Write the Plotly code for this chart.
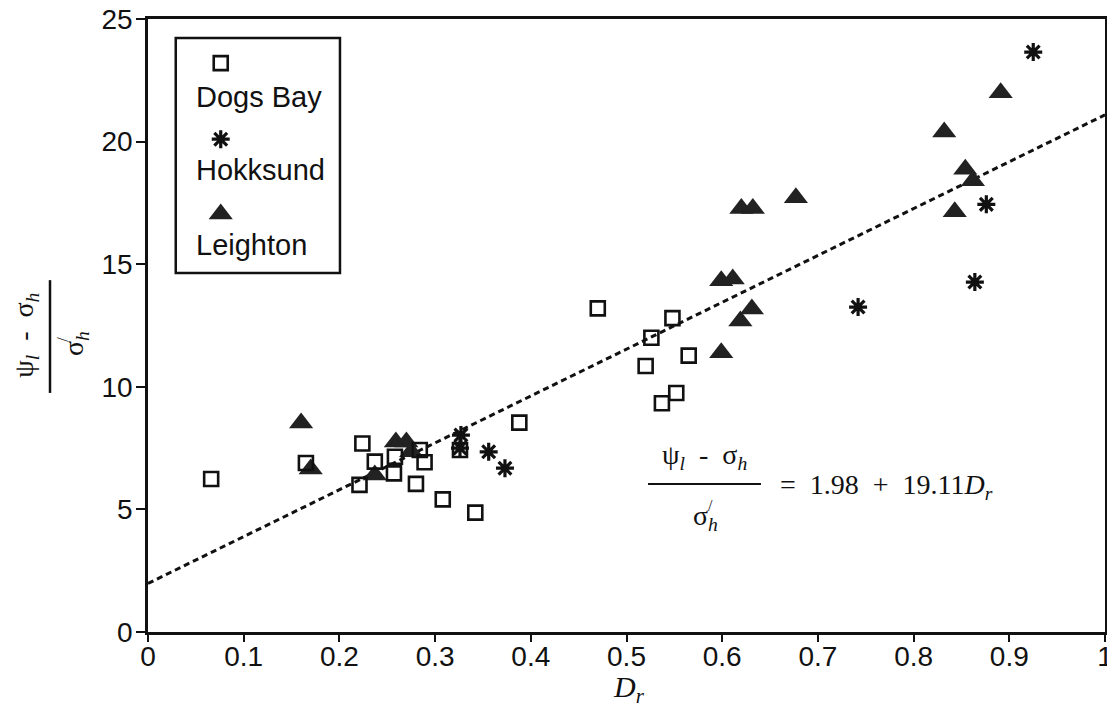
import plotly.graph_objects as go

# Relative density D_r and normalised lateral pressure for each sand
dogs_bay_dr = [0.066, 0.165, 0.224, 0.221, 0.237, 0.258, 0.257, 0.284, 0.289,
               0.280, 0.308, 0.342, 0.326, 0.388, 0.470, 0.548, 0.526, 0.520,
               0.565, 0.552, 0.537]
dogs_bay_y = [6.24, 6.89, 7.69, 6.00, 6.95, 7.15, 6.47, 7.42, 6.92,
              6.04, 5.41, 4.87, 7.42, 8.54, 13.20, 12.80, 12.00, 10.85,
              11.27, 9.75, 9.33]

hokksund_dr = [0.327, 0.326, 0.356, 0.373, 0.742, 0.864, 0.876, 0.925]
hokksund_y = [8.03, 7.50, 7.35, 6.68, 13.25, 14.27, 17.44, 23.65]

leighton_dr = [0.160, 0.170, 0.237, 0.259, 0.270, 0.275, 0.599, 0.599, 0.611,
               0.619, 0.631, 0.620, 0.632, 0.677, 0.832, 0.843, 0.854, 0.862,
               0.891]
leighton_y = [8.52, 6.65, 6.40, 7.75, 7.75, 7.35, 11.39, 14.33, 14.40,
              12.68, 13.17, 17.27, 17.27, 17.71, 20.39, 17.14, 18.87, 18.40,
              21.99]

# Regression line: (psi_l - sigma_h) / sigma'_h = 1.98 + 19.11 D_r
fit_a, fit_b = 1.98, 19.11
fit_dr = [0.0, 1.0]
fit_y = [fit_a + fit_b * d for d in fit_dr]

x_ticks = [0, 0.1, 0.2, 0.3, 0.4, 0.5, 0.6, 0.7, 0.8, 0.9, 1.0]
x_tick_text = ["0", "0.1", "0.2", "0.3", "0.4", "0.5", "0.6", "0.7", "0.8", "0.9", "1"]
y_ticks = [0, 5, 10, 15, 20, 25]

series_names = ["Dogs Bay", "Hokksund", "Leighton"]

SANS = "Liberation Sans, Arial, sans-serif"
SERIF = "Liberation Serif, Times New Roman, serif"
INK = "#111111"

sq_style = dict(symbol="square-open", size=14, color=INK, line=dict(width=2.6, color=INK))
star_style = dict(symbol="asterisk-open", size=15, color=INK, line=dict(width=3.2, color=INK))
tri_style = dict(symbol="triangle-up", size=21, color="#222222", line=dict(width=0))

fig = go.Figure()

fig.add_trace(go.Scatter(x=fit_dr, y=fit_y, mode="lines",
                         line=dict(color=INK, width=3, dash="6px,4px"),
                         showlegend=False, hoverinfo="skip"))
fig.add_trace(go.Scatter(x=leighton_dr, y=leighton_y, mode="markers",
                         marker=tri_style, name=series_names[2], showlegend=False))
fig.add_trace(go.Scatter(x=dogs_bay_dr, y=dogs_bay_y, mode="markers",
                         marker=sq_style, name=series_names[0], showlegend=False))
fig.add_trace(go.Scatter(x=hokksund_dr, y=hokksund_y, mode="markers",
                         marker=star_style, name=series_names[1], showlegend=False))

# Legend keys drawn on an overlay axis spanning the plot area in fractions
key_x = 0.076
key_y = [0.928, 0.804, 0.682]
for style, ky in zip([sq_style, star_style, tri_style], key_y):
    fig.add_trace(go.Scatter(x=[key_x], y=[ky], mode="markers", marker=style,
                             xaxis="x2", yaxis="y2", showlegend=False,
                             hoverinfo="skip"))

shapes = [
    # legend frame
    dict(type="rect", xref="paper", yref="paper", x0=0.029, x1=0.2006,
         y0=0.5856, y1=0.969, line=dict(color=INK, width=2.5), fillcolor="white",
         layer="below"),
    # y-axis title fraction bar
    dict(type="line", xref="paper", yref="paper", x0=-0.1024, x1=-0.1024,
         y0=0.39, y1=0.574, line=dict(color=INK, width=2.5)),
    # equation fraction bar
    dict(type="line", xref="paper", yref="paper", x0=0.5225, x1=0.6405,
         y0=0.2414, y1=0.2414, line=dict(color=INK, width=2.2)),
]

annotations = []
# legend labels
for name, ly in zip(series_names, [0.873, 0.754, 0.631]):
    annotations.append(dict(text=name, xref="paper", yref="paper", x=0.048, y=ly,
                            xanchor="left", yanchor="middle", showarrow=False,
                            font=dict(family=SANS, size=29, color=INK)))

# y-axis title as a rotated fraction
annotations += [
    dict(text="ψ<sub><i>l</i></sub>  -  σ<sub><i>h</i></sub>", xref="paper", yref="paper",
         x=-0.128, y=0.484, textangle=-90, showarrow=False, xanchor="center",
         yanchor="middle", font=dict(family=SERIF, size=28, color=INK)),
    dict(text="σ<sub><i>h</i></sub>", xref="paper", yref="paper",
         x=-0.075, y=0.47, textangle=-90, showarrow=False, xanchor="center",
         yanchor="middle", font=dict(family=SERIF, size=28, color=INK)),
    dict(text="/", xref="paper", yref="paper",
         x=-0.089, y=0.478, textangle=-90, showarrow=False, xanchor="center",
         yanchor="middle", font=dict(family=SERIF, size=16, color=INK)),
]

# regression equation
annotations += [
    dict(text="ψ<sub><i>l</i></sub>  -  σ<sub><i>h</i></sub>", xref="paper", yref="paper",
         x=0.582, y=0.286, showarrow=False, xanchor="center", yanchor="middle",
         font=dict(family=SERIF, size=28, color=INK)),
    dict(text="σ<sub><i>h</i></sub>", xref="paper", yref="paper",
         x=0.583, y=0.186, showarrow=False, xanchor="center", yanchor="middle",
         font=dict(family=SERIF, size=28, color=INK)),
    dict(text="/", xref="paper", yref="paper",
         x=0.5875, y=0.207, showarrow=False, xanchor="center", yanchor="middle",
         font=dict(family=SERIF, size=16, color=INK)),
    dict(text=f"=  {fit_a:.2f}  +  {fit_b:.2f}<i>D</i><sub><i>r</i></sub>",
         xref="paper", yref="paper", x=0.658, y=0.238, showarrow=False,
         xanchor="left", yanchor="middle",
         font=dict(family=SERIF, size=28, color=INK)),
    # x-axis title
    dict(text="<i>D</i><sub><i>r</i></sub>", xref="paper", yref="paper",
         x=0.503, y=-0.093, showarrow=False, xanchor="center", yanchor="middle",
         font=dict(family=SERIF, size=30, color=INK)),
]

fig.update_layout(
    width=1107, height=709,
    margin=dict(l=148, r=2, t=19, b=77, autoexpand=False),
    paper_bgcolor="white", plot_bgcolor="white",
    showlegend=False,
    shapes=shapes, annotations=annotations,
    xaxis=dict(range=[0, 1.0], tickvals=x_ticks, ticktext=x_tick_text,
               showgrid=False, zeroline=False, showline=True, linecolor=INK,
               linewidth=2.5, mirror=True, ticks="outside", ticklen=7,
               tickwidth=2, tickcolor=INK, ticklabelstandoff=-9,
               ticklabeloverflow="allow", automargin=False,
               tickfont=dict(family=SANS, size=28, color=INK)),
    yaxis=dict(range=[0, 25], tickvals=y_ticks, showgrid=False, zeroline=False,
               showline=True, linecolor=INK, linewidth=2.5, mirror=True,
               ticks="outside", ticklen=9, tickwidth=2, tickcolor=INK,
               ticklabelstandoff=-2, automargin=False,
               tickfont=dict(family=SANS, size=28, color=INK)),
    xaxis2=dict(overlaying="x", range=[0, 1], visible=False, fixedrange=True),
    yaxis2=dict(overlaying="y", range=[0, 1], visible=False, fixedrange=True),
)

fig.write_html("out.html")
